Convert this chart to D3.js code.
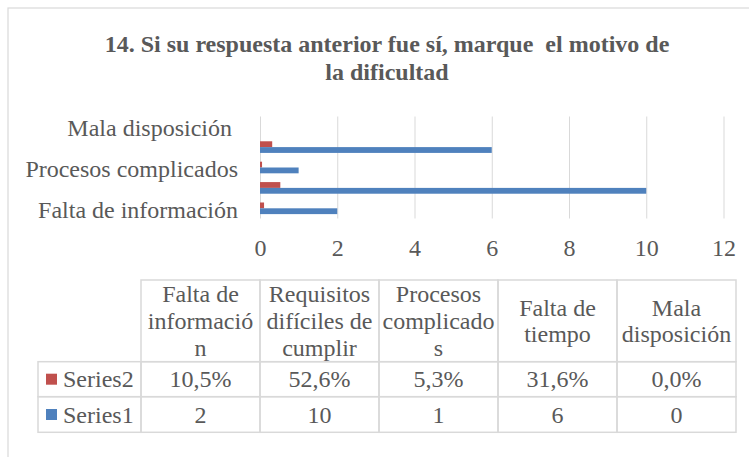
<!DOCTYPE html>
<html>
<head>
<meta charset="utf-8">
<script src="https://cdn.jsdelivr.net/npm/d3@7"></script>
<style>
  body { margin: 0; background: #fff; }
  svg text { font-family: 'Liberation Serif', 'Times New Roman', Times, serif; fill: #595959; }
</style>
</head>
<body>
<script>
// values
var categories = ["Falta de información", "Requisitos difíciles de cumplir", "Procesos complicados", "Falta de tiempo", "Mala disposición "];
var series1 = [2, 10, 1, 6, 0];
var series2 = [0.105, 0.526, 0.053, 0.316, 0.0];
var seriesNames = ["Series2", "Series1"];
var seriesColors = { Series1: "#4F81BD", Series2: "#C0504D" };
var xTicks = [0, 2, 4, 6, 8, 10, 12];
var titleLines = ["14. Si su respuesta anterior fue sí, marque  el motivo de", "la dificultad"];

var width = 749, height = 457;
var plot = { left: 260, right: 723.5, top: 116.5, bottom: 218.5 };
var gridColor = "#D9D9D9";
var serif = "'Liberation Serif', 'Times New Roman', Times, serif";

var es = d3.formatLocale({ decimal: ",", thousands: ".", grouping: [3], currency: ["", "€"] });
var pct = es.format(".1%");

var svg = d3.select("body").append("svg")
   .attr("width", width)
   .attr("height", height)
   .attr("font-family", serif);

svg.append("rect")
   .attr("width", width).attr("height", height)
   .attr("fill", "#fff");

// chart frame (right and bottom edges fall outside the picture)
svg.append("rect")
   .attr("x", 8).attr("y", 8)
   .attr("width", width + 20).attr("height", height + 20)
   .attr("fill", "none")
   .attr("stroke", gridColor)
   .attr("stroke-width", 1.2);

svg.append("text")
   .attr("x", 387)
   .attr("text-anchor", "middle")
   .style("font-weight", "bold")
   .style("font-size", "24px")
   .style("white-space", "pre")
   .selectAll("tspan")
   .data(titleLines)
   .enter().append("tspan")
   .attr("x", 387)
   .attr("y", (d, i) => 52 + i * 28)
   .text(d => d);

var x = d3.scaleLinear()
   .domain([0, 12])
   .range([plot.left, plot.right]);

var y = d3.scaleBand()
   .domain(categories)
   .range([plot.bottom, plot.top])
   .paddingInner(0.43)
   .paddingOuter(0.215);

var ySub = d3.scaleBand()
   .domain(seriesNames)
   .range([0, y.bandwidth()]);

// gridlines + tick labels
var xAxis = d3.axisBottom(x)
   .tickValues(xTicks)
   .tickSize(-(plot.bottom - plot.top))
   .tickPadding(20)
   .tickFormat(d3.format("d"));

var gx = svg.append("g")
   .attr("transform", `translate(0,${plot.bottom})`)
   .call(xAxis)
   .attr("font-family", serif);
gx.select(".domain").remove();
gx.selectAll(".tick line").attr("stroke", gridColor).attr("stroke-width", 1);
gx.selectAll(".tick text")
   .style("font-size", "24px")
   .attr("fill", "#595959");

// bars
var rows = categories.map((c, i) => ({ cat: c, Series1: series1[i], Series2: series2[i] }));

var groups = svg.append("g").selectAll("g")
   .data(rows)
   .enter().append("g")
   .attr("transform", d => `translate(0,${y(d.cat)})`);

groups.selectAll("rect")
   .data(d => seriesNames.map(s => ({ s: s, v: d[s] })))
   .enter().append("rect")
   .attr("x", x(0))
   .attr("y", d => ySub(d.s))
   .attr("width", d => x(d.v) - x(0))
   .attr("height", ySub.bandwidth())
   .attr("fill", d => seriesColors[d.s]);

// category axis: every second label
var yAxis = d3.axisLeft(y)
   .tickValues(categories.filter((d, i) => i % 2 === 0))
   .tickSize(0)
   .tickPadding(22);

var gy = svg.append("g")
   .attr("transform", `translate(${plot.left},0)`)
   .call(yAxis)
   .attr("font-family", serif);
gy.select(".domain").remove();
gy.selectAll(".tick text")
   .style("font-size", "24px")
   .style("white-space", "pre")
   .attr("fill", "#595959")
   .attr("dy", "0.4em");

// data table
var col = d3.scaleBand()
   .domain(categories)
   .range([141, 736]);
var legendLeft = 38;
var headTop = 280, headBottom = 361.7;
var rowTops = [361.7, 396.7, 432.3];

var table = svg.append("g");

function wrapLines(label, maxW) {
   var probe = table.append("text").style("font-size", "24px");
   var measure = s => { probe.text(s); return probe.node().getComputedTextLength(); };
   var words = label.trim().split(/\s+/), lines = [], cur = "";
   words.forEach(w => {
      var test = cur ? cur + " " + w : w;
      if (measure(test) <= maxW) { cur = test; return; }
      if (cur) lines.push(cur);
      cur = "";
      // break long words by characters
      var part = "";
      for (var ch of w) {
         if (measure(part + ch) > maxW && part) { lines.push(part); part = ch; }
         else part += ch;
      }
      cur = part;
   });
   if (cur) lines.push(cur);
   probe.remove();
   return lines;
}

// header cells
categories.forEach(c => {
   table.append("rect")
      .attr("x", col(c)).attr("y", headTop)
      .attr("width", col.bandwidth()).attr("height", headBottom - headTop)
      .attr("fill", "none").attr("stroke", gridColor).attr("stroke-width", 1.5);
   var lines = wrapLines(c, col.bandwidth() - 5);
   var lh = 26.7;
   var mid = (headTop + headBottom) / 2;
   var first = mid - (lines.length - 1) * lh / 2 + 8;
   var t = table.append("text")
      .attr("text-anchor", "middle")
      .style("font-size", "24px");
   t.selectAll("tspan").data(lines).enter().append("tspan")
      .attr("x", col(c) + col.bandwidth() / 2)
      .attr("y", (d, i) => first + i * lh)
      .text(d => d);
});

// value rows
var tableRows = [
   { name: "Series2", values: series2, fmt: pct },
   { name: "Series1", values: series1, fmt: d3.format("d") }
];

tableRows.forEach((r, ri) => {
   var top = rowTops[ri], bot = rowTops[ri + 1];
   var mid = (top + bot) / 2;
   table.append("rect")
      .attr("x", legendLeft).attr("y", top)
      .attr("width", col(categories[0]) - legendLeft).attr("height", bot - top)
      .attr("fill", "none").attr("stroke", gridColor).attr("stroke-width", 1.5);
   table.append("rect")
      .attr("x", 46).attr("y", mid - 5.5)
      .attr("width", 11).attr("height", 11)
      .attr("fill", seriesColors[r.name]);
   table.append("text")
      .attr("x", 63).attr("y", mid + 8)
      .style("font-size", "24px")
      .text(r.name);
   categories.forEach((c, i) => {
      table.append("rect")
         .attr("x", col(c)).attr("y", top)
         .attr("width", col.bandwidth()).attr("height", bot - top)
         .attr("fill", "none").attr("stroke", gridColor).attr("stroke-width", 1.5);
      table.append("text")
         .attr("x", col(c) + col.bandwidth() / 2)
         .attr("y", mid + 8)
         .attr("text-anchor", "middle")
         .style("font-size", "24px")
         .text(r.fmt(r.values[i]));
   });
});
</script>
</body>
</html>
